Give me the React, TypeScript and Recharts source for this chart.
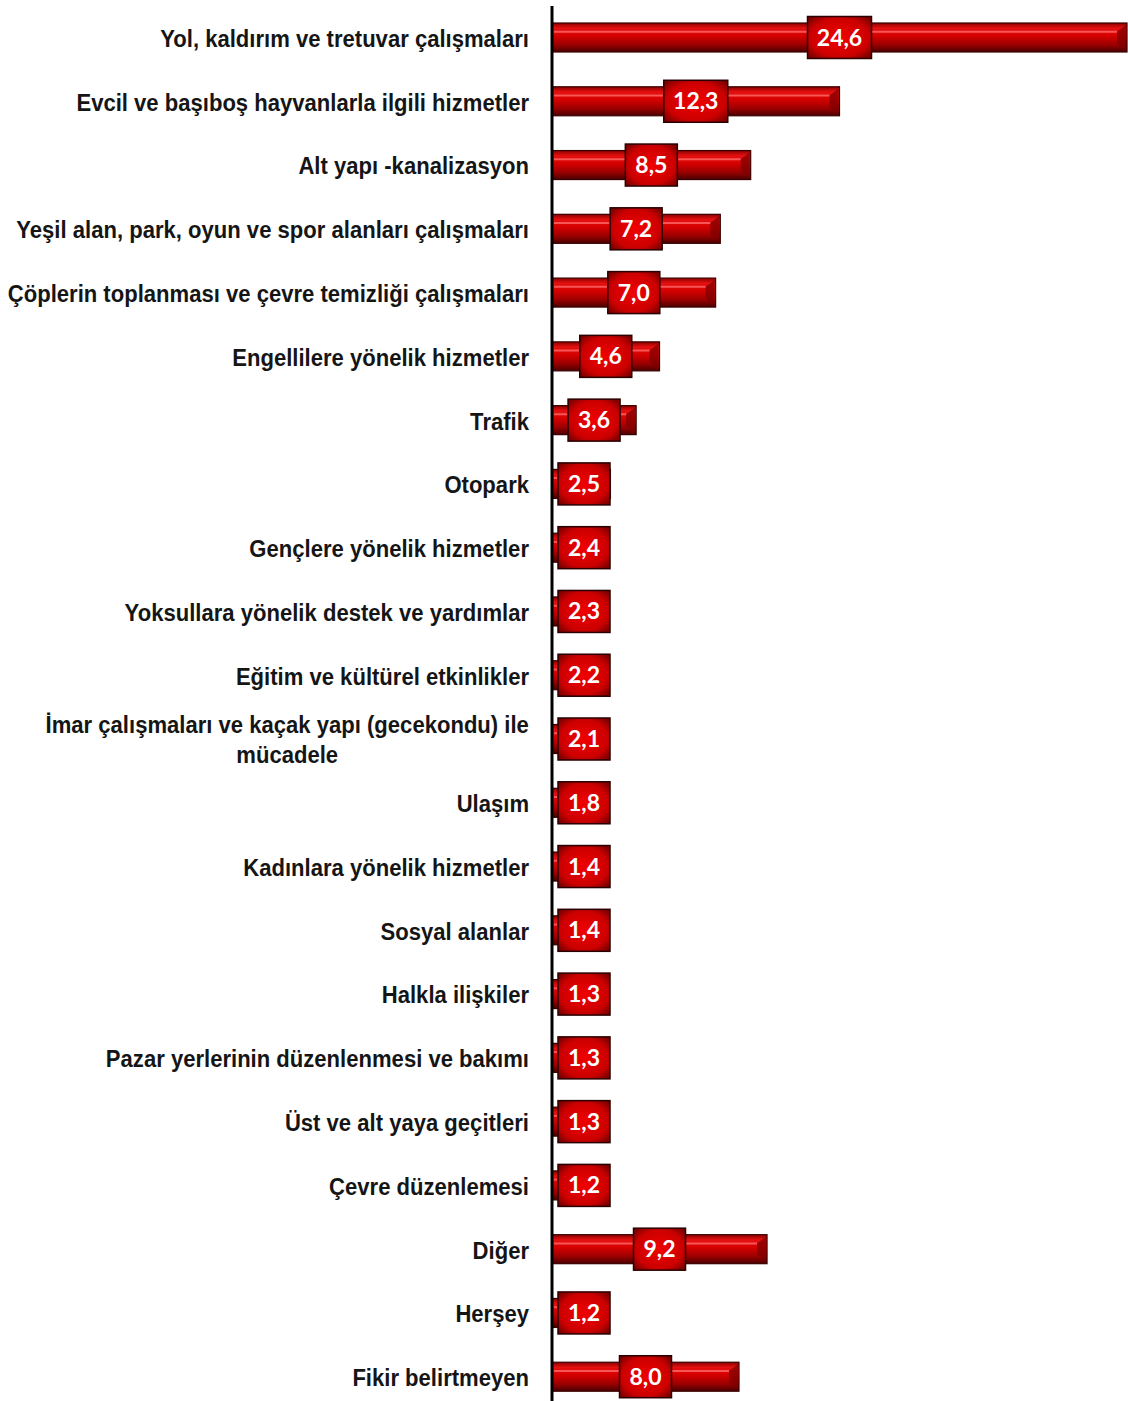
import { BarChart, Bar, XAxis, YAxis, LabelList } from 'recharts'

const categories = [
    'Yol, kaldırım ve tretuvar çalışmaları',
    'Evcil ve başıboş hayvanlarla ilgili hizmetler',
    'Alt yapı -kanalizasyon',
    'Yeşil alan, park, oyun ve spor alanları çalışmaları',
    'Çöplerin toplanması ve çevre temizliği çalışmaları',
    'Engellilere yönelik hizmetler',
    'Trafik',
    'Otopark',
    'Gençlere yönelik hizmetler',
    'Yoksullara yönelik destek ve yardımlar',
    'Eğitim ve kültürel etkinlikler',
    'İmar çalışmaları ve kaçak yapı (gecekondu) ile\nmücadele',
    'Ulaşım',
    'Kadınlara yönelik hizmetler',
    'Sosyal alanlar',
    'Halkla ilişkiler',
    'Pazar yerlerinin düzenlenmesi ve bakımı',
    'Üst ve alt yaya geçitleri',
    'Çevre düzenlemesi',
    'Diğer',
    'Herşey',
    'Fikir belirtmeyen',
]

const values = [24.6, 12.3, 8.5, 7.2, 7.0, 4.6, 3.6, 2.5, 2.4, 2.3, 2.2, 2.1, 1.8, 1.4, 1.4, 1.3, 1.3, 1.3, 1.2, 9.2, 1.2, 8.0]

const data = categories.map((name, i) => ({ name, value: values[i] }))

// no Arial Narrow here, so squeeze bold Liberation Sans horizontally
const LABEL_FONT = '"Liberation Sans", Arial, sans-serif'
const NARROW = 0.92
const VALUE_FONT = 'Lato, "Open Sans", sans-serif'

let measureCtx: CanvasRenderingContext2D | null = null
function textWidth(text: string) {
    if (!measureCtx) measureCtx = document.createElement('canvas').getContext('2d')
    if (!measureCtx) return text.length * 12
    measureCtx.font = `bold 24px ${LABEL_FONT}`
    return measureCtx.measureText(text).width
}

const CategoryTick = (props: any) => {
    const { x, y, payload } = props
    const lines = String(payload.value).split('\n')
    if (lines.length === 1) {
        return (
            <g transform={`translate(${x},${y}) scale(${NARROW},1)`}>
                <text x={0} y={0} dy={9} textAnchor="end" fontSize={24} fontWeight={700} fontFamily={LABEL_FONT} fill="#151515">
                    {lines[0]}
                </text>
            </g>
        )
    }
    const half = textWidth(lines[0]) / 2
    return (
        <g transform={`translate(${x},${y}) scale(${NARROW},1)`}>
            <text x={-half} y={0} textAnchor="middle" fontSize={24} fontWeight={700} fontFamily={LABEL_FONT} fill="#151515">
                {lines.map((l, i) => (
                    <tspan key={i} x={-half} dy={i === 0 ? -6 : 30}>{l}</tspan>
                ))}
            </text>
        </g>
    )
}

const BevelBar = (props: any) => {
    const { x, y, width, height } = props
    if (!width || width <= 0) return null
    const inset = Math.min(10, width / 3)
    return (
        <g>
            <rect x={x} y={y} width={width} height={height} fill="url(#barGrad)" stroke="#3a0000" strokeWidth={1.2} />
            <polygon
                points={`${x + width - inset},${y + height * 0.3} ${x + width - 1},${y + 2} ${x + width - 1},${y + height - 2} ${x + width - inset},${y + height * 0.7}`}
                fill="#7a0000"
                opacity={0.7}
            />
            <line x1={x + 2} x2={x + width - inset} y1={y + height * 0.3} y2={y + height * 0.3} stroke="#ff6a6a" strokeWidth={2} opacity={0.8} />
        </g>
    )
}

const ValueBox = (props: any) => {
    const { x, y, width, height, value } = props
    const txt = Number(value).toFixed(1).replace('.', ',')
    const w = txt.length * 12 + 16
    const h = 42
    const cx = Math.max(x + width / 2, x + 6 + w / 2)
    const cy = y + height / 2
    return (
        <g>
            <rect x={cx - w / 2} y={cy - h / 2} width={w} height={h} fill="url(#boxGrad)" stroke="#2a0000" strokeWidth={1.5} />
            <text x={cx} y={cy} dy={8} textAnchor="middle" fontSize={23} fontWeight={700} fontFamily={VALUE_FONT} fill="#fff">
                {txt}
            </text>
        </g>
    )
}

export default function App() {
    return (
        <div style={{ width: 1128, height: 1401, overflow: 'hidden', background: '#fff' }}>
            <style>{'body{margin:0}'}</style>
            <BarChart
                width={1128}
                height={1412}
                data={data}
                layout="vertical"
                margin={{ top: 6, right: 1, bottom: 3, left: 0 }}
                barCategoryGap={17}
            >
                <defs>
                    <linearGradient id="barGrad" x1="0" y1="0" x2="0" y2="1">
                        <stop offset="0%" stopColor="#8a0000" />
                        <stop offset="18%" stopColor="#e51010" />
                        <stop offset="45%" stopColor="#d40000" />
                        <stop offset="75%" stopColor="#9a0000" />
                        <stop offset="100%" stopColor="#4a0000" />
                    </linearGradient>
                    <radialGradient id="boxGrad" cx="50%" cy="50%" r="65%">
                        <stop offset="0%" stopColor="#f00000" />
                        <stop offset="70%" stopColor="#cc0000" />
                        <stop offset="100%" stopColor="#7a0000" />
                    </radialGradient>
                </defs>
                <XAxis type="number" domain={[0, 24.6]} hide />
                <YAxis
                    type="category"
                    dataKey="name"
                    width={552}
                    interval={0}
                    tickLine={false}
                    tickSize={0}
                    tickMargin={23}
                    axisLine={{ stroke: '#000', strokeWidth: 3 }}
                    tick={<CategoryTick />}
                />
                <Bar dataKey="value" barSize={29} shape={<BevelBar />} isAnimationActive={false}>
                    <LabelList dataKey="value" content={<ValueBox />} />
                </Bar>
            </BarChart>
        </div>
    )
}
